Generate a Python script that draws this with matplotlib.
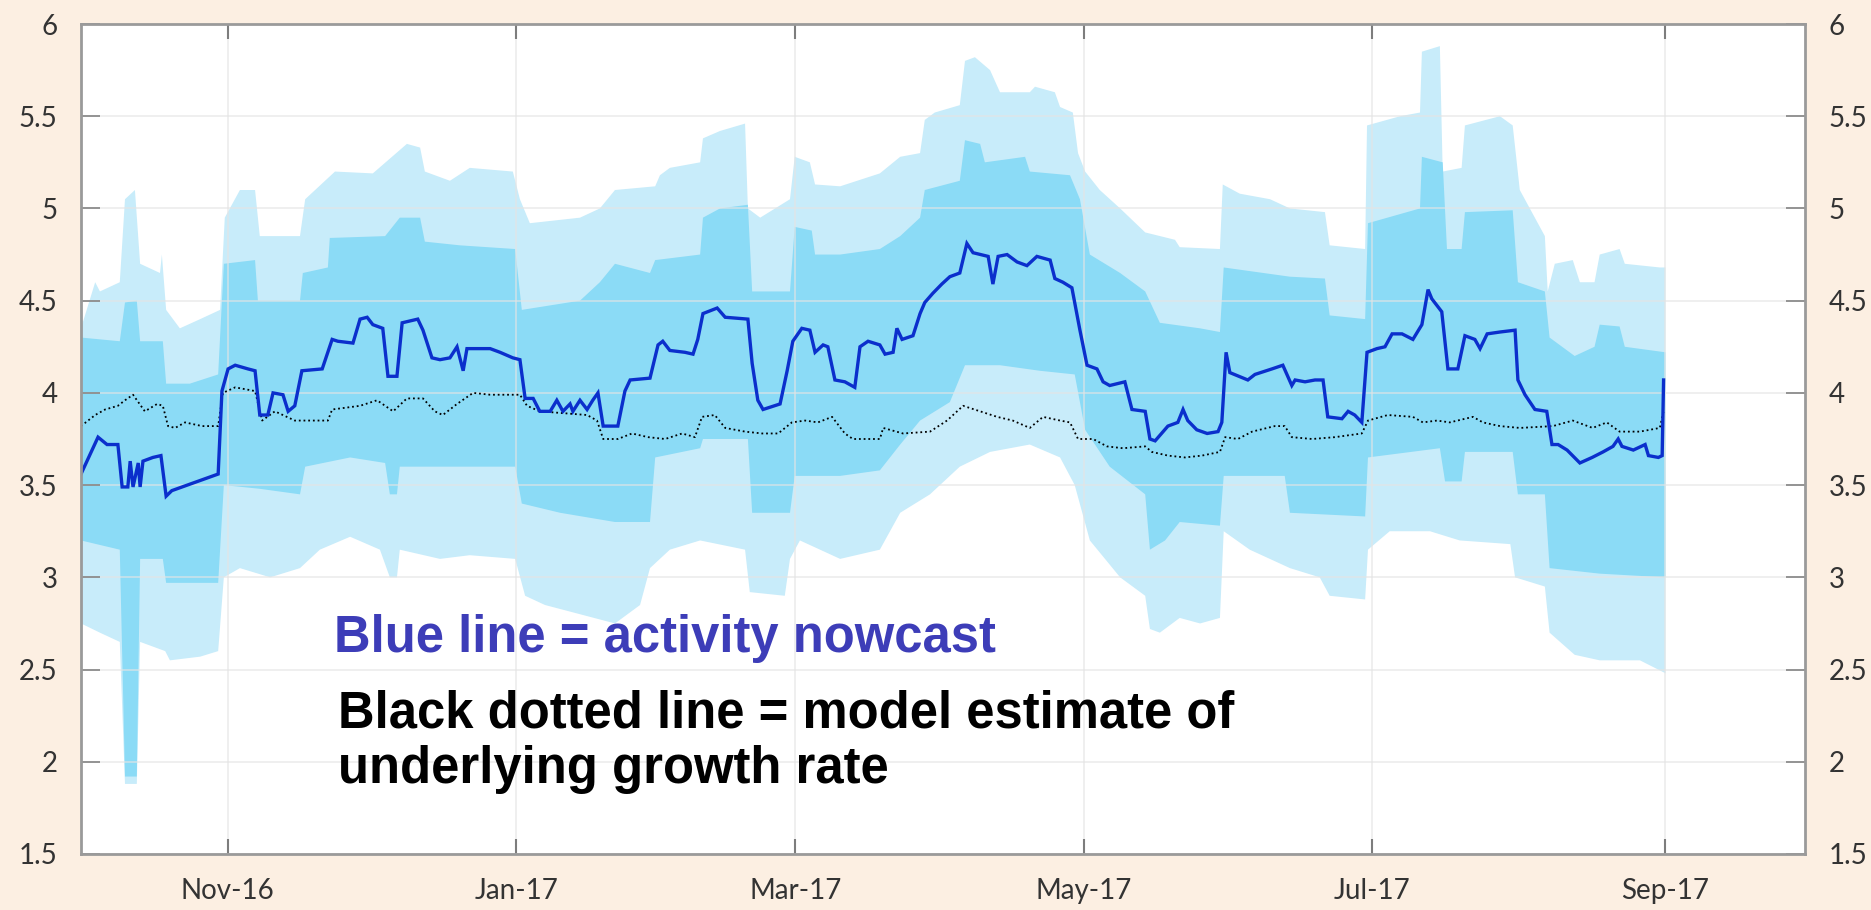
import matplotlib.pyplot as plt
import matplotlib.dates as mdates
import numpy as np
import pandas as pd

# -----------------------------------------------------------------------------
# Data (x values are days since START)
# -----------------------------------------------------------------------------

START = pd.Timestamp("2016-10-01")
END = pd.Timestamp("2017-09-30 12:00")

# activity nowcast (blue line)
NOWCAST_DAY = [
    0, 3.6, 5.5, 7.8, 8.7, 9.9, 10.4, 11, 12.1, 12.5,
    13.1, 15.2, 16.9, 18, 19.2, 29, 29.8, 31.1, 32.6, 35.3,
    36.8, 37.8, 39.5, 40.6, 42.7, 43.8, 45.2, 46.7, 51, 53.1,
    54.3, 57.5, 59, 60.5, 61.7, 63.8, 64.9, 66.8, 67.9, 71.2,
    72.3, 74.2, 75.9, 78, 79.5, 80.8, 81.6, 86.5, 88.6, 91.3,
    92.8, 93.9, 95.6, 97, 99.2, 100.6, 101.9, 103.4, 104, 105.5,
    107, 108.2, 109.3, 110.4, 113.5, 115, 116.1, 120.3, 122, 123,
    124.5, 127.7, 129.4, 130.4, 131.5, 134.5, 136.2, 141, 141.9, 143.1,
    144.2, 147.8, 149.3, 150.5, 152.4, 154.1, 155.2, 156.9, 157.9, 159.4,
    161.5, 163.6, 164.7, 166.4, 168.9, 170, 171.7, 172.5, 173.6, 175.9,
    177.4, 178.4, 180.1, 182, 183.7, 185.8, 187.3, 188.6, 191.8, 192.8,
    193.9, 195.8, 197.9, 200, 202.1, 204.9, 205.9, 207.6, 209.5, 211.2,
    212.7, 214.8, 216.1, 217.5, 220.7, 222.2, 225, 226, 227.1, 229.8,
    231.9, 233, 234, 235.9, 238.1, 240.4, 241.2, 242.1, 242.9, 246.7,
    248.2, 251.8, 254.1, 256, 256.7, 258.8, 260.9, 262.6, 263.6, 266.6,
    267.9, 269.3, 270.8, 271.9, 274, 275.7, 277.2, 279.3, 281.6, 283.5,
    284.8, 285.6, 287.7, 289, 291.1, 292.6, 294.7, 295.8, 297.3, 300,
    303.2, 303.8, 305.3, 307.4, 309.9, 311, 312.3, 314.2, 316.9, 319.5,
    321.8, 323.9, 325, 325.8, 328.2, 330.7, 331.4, 333.5, 334.3, 334.6,
]
NOWCAST = [
    3.56, 3.76, 3.72, 3.72, 3.49, 3.49, 3.63, 3.49, 3.62, 3.49,
    3.63, 3.65, 3.66, 3.44, 3.47, 3.56, 4.01, 4.13, 4.15, 4.13,
    4.12, 3.88, 3.88, 4.00, 3.99, 3.90, 3.93, 4.12, 4.13, 4.29,
    4.28, 4.27, 4.40, 4.41, 4.37, 4.35, 4.09, 4.09, 4.38, 4.40,
    4.34, 4.19, 4.18, 4.19, 4.25, 4.12, 4.24, 4.24, 4.22, 4.19,
    4.18, 3.97, 3.97, 3.90, 3.90, 3.96, 3.90, 3.94, 3.90, 3.96,
    3.91, 3.96, 4.00, 3.82, 3.82, 4.01, 4.07, 4.08, 4.26, 4.28,
    4.23, 4.22, 4.21, 4.29, 4.43, 4.46, 4.41, 4.40, 4.16, 3.96,
    3.91, 3.94, 4.12, 4.28, 4.35, 4.34, 4.22, 4.26, 4.25, 4.07,
    4.06, 4.03, 4.25, 4.28, 4.26, 4.21, 4.22, 4.35, 4.29, 4.31,
    4.43, 4.49, 4.54, 4.59, 4.63, 4.65, 4.81, 4.76, 4.74, 4.59,
    4.74, 4.75, 4.71, 4.69, 4.74, 4.72, 4.62, 4.60, 4.57, 4.34,
    4.15, 4.13, 4.06, 4.04, 4.06, 3.91, 3.90, 3.75, 3.74, 3.82,
    3.84, 3.91, 3.85, 3.80, 3.78, 3.79, 3.84, 4.22, 4.11, 4.07,
    4.10, 4.13, 4.15, 4.04, 4.07, 4.06, 4.07, 4.07, 3.87, 3.86,
    3.90, 3.88, 3.84, 4.22, 4.24, 4.25, 4.32, 4.32, 4.29, 4.37,
    4.56, 4.51, 4.44, 4.13, 4.13, 4.31, 4.29, 4.24, 4.32, 4.33,
    4.34, 4.07, 3.99, 3.91, 3.90, 3.72, 3.72, 3.69, 3.62, 3.65,
    3.68, 3.71, 3.75, 3.71, 3.69, 3.72, 3.66, 3.65, 3.66, 4.07,
]

# model estimate of underlying growth (black dotted line)
MODEL_DAY = [
    0, 3, 5.1, 7.8, 9.3, 11, 13.5, 16.1, 17.3, 18.4,
    19.9, 22, 25.6, 29, 30, 32.6, 36.8, 38.3, 41, 45.2,
    52.2, 53.1, 59, 62.6, 66, 68.9, 72.3, 74.8, 76.5, 79.5,
    82.9, 86.5, 92.8, 94.3, 97, 107, 109.1, 110.4, 113.5, 116.5,
    119.9, 123.5, 127.1, 129.8, 131.3, 134, 136.2, 140.4, 144, 147.4,
    150.3, 153.1, 155.8, 158.8, 161.5, 163.2, 168.9, 169.6, 173.8, 179.5,
    183.1, 186.5, 190.1, 193.7, 197, 200.6, 203.4, 207, 209.1, 210.8,
    214, 216.9, 220.3, 225, 226.4, 229.8, 233.4, 237, 240.8, 241.9,
    244.6, 247.6, 252.4, 254.5, 256, 260.3, 265.1, 270.8, 272.1, 276.3,
    281.6, 283.7, 286.7, 289.4, 294.3, 296.4, 300, 304.2, 311.2, 315.4,
    319.6, 322.6, 325.3, 329.6, 333.8, 334.6,
]
MODEL = [
    3.82, 3.88, 3.91, 3.93, 3.96, 3.99, 3.90, 3.94, 3.93, 3.82,
    3.81, 3.84, 3.82, 3.82, 4.00, 4.03, 4.01, 3.85, 3.90, 3.85,
    3.85, 3.91, 3.93, 3.96, 3.90, 3.97, 3.97, 3.90, 3.88, 3.94,
    4.00, 3.99, 3.99, 3.93, 3.90, 3.88, 3.85, 3.75, 3.75, 3.78,
    3.76, 3.75, 3.78, 3.76, 3.87, 3.88, 3.81, 3.79, 3.78, 3.78,
    3.84, 3.85, 3.84, 3.87, 3.78, 3.75, 3.75, 3.81, 3.78, 3.79,
    3.85, 3.93, 3.90, 3.87, 3.85, 3.81, 3.87, 3.85, 3.84, 3.75,
    3.75, 3.71, 3.70, 3.71, 3.68, 3.66, 3.65, 3.66, 3.68, 3.76,
    3.75, 3.79, 3.82, 3.82, 3.76, 3.75, 3.76, 3.78, 3.85, 3.88,
    3.87, 3.84, 3.85, 3.84, 3.87, 3.84, 3.82, 3.81, 3.82, 3.85,
    3.81, 3.84, 3.79, 3.79, 3.81, 3.90,
]

# wide uncertainty band (light)
OUTER_UP_DAY = [
    0, 3, 4, 8.2, 9.3, 11.4, 12.5, 16.7, 17.1, 18,
    20.9, 25.2, 29.4, 30.4, 33.6, 36.8, 37.8, 46.3, 47.4, 53.7,
    61.7, 68.9, 71.7, 72.7, 78, 82.2, 91.3, 92.8, 94.9, 105.5,
    109.7, 112.9, 121.4, 122.4, 124.5, 130.9, 131.5, 135.1, 140.4, 141,
    143.6, 149.9, 150.9, 154.1, 155.2, 160.5, 168.9, 173.2, 177.4, 178.4,
    180.5, 185.8, 186.9, 189, 192.2, 194.3, 200.6, 201.7, 205.9, 207,
    209.7, 210.8, 212.3, 215.4, 219.7, 225, 231.3, 232.3, 240.8, 241.4,
    245, 251.4, 255.6, 263, 264, 271.5, 271.9, 278.9, 283.1, 283.5,
    287.3, 287.9, 291.9, 292.6, 300, 302.7, 304.2, 309.5, 310.1, 311.6,
    315.4, 316.9, 320, 321.1, 325.3, 326.4, 333.8, 335,
]
OUTER_UP = [
    4.35, 4.60, 4.55, 4.60, 5.05, 5.10, 4.70, 4.65, 4.75, 4.45,
    4.35, 4.40, 4.45, 4.95, 5.10, 5.10, 4.85, 4.85, 5.05, 5.20,
    5.19, 5.35, 5.33, 5.20, 5.15, 5.22, 5.20, 5.05, 4.92, 4.95,
    5.00, 5.10, 5.12, 5.18, 5.22, 5.25, 5.38, 5.42, 5.46, 5.00,
    4.95, 5.05, 5.28, 5.25, 5.13, 5.12, 5.19, 5.28, 5.30, 5.48,
    5.52, 5.56, 5.80, 5.82, 5.75, 5.63, 5.63, 5.66, 5.63, 5.55,
    5.52, 5.30, 5.20, 5.10, 5.00, 4.87, 4.83, 4.79, 4.78, 5.13,
    5.08, 5.05, 5.00, 4.98, 4.80, 4.78, 5.45, 5.50, 5.52, 5.85,
    5.88, 5.20, 5.22, 5.45, 5.50, 5.45, 5.10, 4.85, 4.55, 4.70,
    4.72, 4.60, 4.60, 4.75, 4.78, 4.70, 4.68, 4.68,
]
OUTER_LO_DAY = [
    0, 4, 8.2, 9.3, 11.8, 12.5, 17.8, 18.8, 25.2, 29,
    30.2, 33.6, 40, 46.3, 50.5, 56.9, 63.2, 65.3, 66.8, 67.4,
    75.9, 82.2, 91.8, 93.9, 98.1, 105.5, 112.9, 118.2, 120.3, 124.5,
    130.9, 140.4, 141.4, 148.8, 149.9, 152, 160.5, 168.9, 173.2, 179.5,
    185.8, 192.2, 200.6, 207, 210.1, 213.3, 219.7, 225, 226, 228.1,
    232.3, 236.6, 240.8, 241.6, 247.1, 255.6, 261.9, 264, 271.5, 272.1,
    276.7, 285.2, 291.5, 302.2, 303.2, 309.5, 310.5, 315.8, 321.1, 329.6,
    335,
]
OUTER_LO = [
    2.75, 2.70, 2.65, 1.88, 1.88, 2.65, 2.60, 2.55, 2.57, 2.60,
    3.00, 3.05, 3.00, 3.05, 3.15, 3.22, 3.15, 3.00, 3.00, 3.15,
    3.10, 3.12, 3.10, 2.90, 2.85, 2.80, 2.75, 2.85, 3.05, 3.15,
    3.20, 3.15, 2.92, 2.90, 3.10, 3.20, 3.10, 3.15, 3.35, 3.45,
    3.60, 3.68, 3.72, 3.65, 3.50, 3.20, 3.00, 2.90, 2.72, 2.70,
    2.78, 2.75, 2.78, 3.25, 3.15, 3.05, 3.00, 2.90, 2.88, 3.15,
    3.25, 3.25, 3.20, 3.18, 3.00, 2.95, 2.70, 2.58, 2.55, 2.55,
    2.48,
]

# narrow uncertainty band (mid blue)
INNER_UP_DAY = [
    0, 8.2, 9.3, 11.8, 12.5, 17.3, 18, 23, 29, 30.2,
    36.8, 37.4, 46.3, 46.9, 52.2, 52.6, 64.3, 67.4, 71.7, 72.7,
    80.1, 91.8, 93.2, 105.5, 109.7, 112.9, 120.3, 121.4, 130.9, 131.5,
    135.1, 141, 141.9, 149.9, 150.9, 154.5, 155.2, 160.5, 168.9, 173.2,
    177.4, 178.4, 185.8, 186.9, 190.1, 191.1, 199.6, 200.6, 209.1, 211.2,
    213.3, 219.7, 225, 228.1, 236.6, 240.8, 241.6, 255.6, 263, 264,
    271.5, 272.1, 283.1, 283.5, 287.9, 288.8, 291.9, 292.6, 302.7, 303.8,
    309.5, 310.5, 315.8, 320, 321.1, 325.3, 326.4, 335,
]
INNER_UP = [
    4.30, 4.28, 4.49, 4.50, 4.28, 4.28, 4.05, 4.05, 4.10, 4.70,
    4.72, 4.50, 4.50, 4.65, 4.68, 4.84, 4.85, 4.95, 4.95, 4.82,
    4.80, 4.78, 4.45, 4.50, 4.60, 4.70, 4.65, 4.72, 4.75, 4.95,
    5.00, 5.02, 4.55, 4.55, 4.90, 4.88, 4.75, 4.75, 4.78, 4.85,
    4.95, 5.10, 5.15, 5.37, 5.35, 5.25, 5.28, 5.20, 5.18, 5.05,
    4.75, 4.65, 4.55, 4.38, 4.35, 4.33, 4.68, 4.63, 4.62, 4.42,
    4.40, 4.92, 5.00, 5.28, 5.25, 4.78, 4.78, 4.98, 4.99, 4.60,
    4.55, 4.30, 4.20, 4.25, 4.37, 4.36, 4.25, 4.22,
]
INNER_LO_DAY = [
    0, 8.2, 9.3, 11.8, 12.5, 17.3, 18, 29, 30.2, 37.8,
    46.3, 47.4, 56.9, 64.3, 65.3, 66.8, 67.4, 91.8, 93.2, 101.3,
    112.9, 120.3, 121.4, 130.9, 131.5, 141, 141.9, 149.9, 150.9, 160.5,
    168.9, 173.2, 177.4, 183.7, 186.9, 194.3, 202.7, 210.1, 212.3, 217.5,
    225, 226, 229.2, 232.3, 240.8, 241.6, 254.5, 255.6, 271.5, 272.1,
    287.3, 288.4, 291.9, 292.6, 302.7, 303.8, 309.5, 310.5, 321.1, 335,
]
INNER_LO = [
    3.20, 3.15, 1.92, 1.92, 3.10, 3.10, 2.97, 2.97, 3.50, 3.48,
    3.45, 3.60, 3.65, 3.62, 3.45, 3.45, 3.60, 3.60, 3.40, 3.35,
    3.30, 3.30, 3.65, 3.70, 3.75, 3.75, 3.35, 3.35, 3.55, 3.55,
    3.58, 3.72, 3.85, 3.95, 4.15, 4.15, 4.12, 4.10, 3.80, 3.60,
    3.45, 3.15, 3.20, 3.30, 3.28, 3.55, 3.55, 3.35, 3.33, 3.65,
    3.70, 3.52, 3.52, 3.68, 3.68, 3.45, 3.45, 3.05, 3.02, 3.00,
]

Y_TICKS = [1.5, 2, 2.5, 3, 3.5, 4, 4.5, 5, 5.5, 6]
Y_TICK_LABELS = ["1.5", "2", "2.5", "3", "3.5", "4", "4.5", "5", "5.5", "6"]
MONTH_TICKS = ["2016-11-01", "2017-01-01", "2017-03-01",
               "2017-05-01", "2017-07-01", "2017-09-01"]

# -----------------------------------------------------------------------------
# Style
# -----------------------------------------------------------------------------

BG = "#fcefe2"
LIGHT_BAND = "#c8ecfa"
MID_BAND = "#8bdbf6"
NOWCAST_COLOR = "#0b2fcc"
SPINE = "#9a9a9a"
GRID = "#e4e4e4"
TICK_FONT = "Lato"
NOTE_FONT = "Liberation Sans"
NOTE_SIZE = 36.5

W_PX, H_PX = 1871, 910


def to_num(days):
    return mdates.date2num(START) + np.asarray(days, dtype=float)


def band(ax, up_day, up, lo_day, lo, color):
    xs = np.concatenate([to_num(up_day), to_num(lo_day)[::-1]])
    ys = np.concatenate([np.asarray(up), np.asarray(lo)[::-1]])
    ax.fill(xs, ys, color=color, linewidth=0, zorder=1)


# -----------------------------------------------------------------------------
# Plot
# -----------------------------------------------------------------------------

fig = plt.figure(figsize=(W_PX / 100, H_PX / 100), dpi=100, facecolor=BG)
ax = fig.add_axes([81 / W_PX, 1 - 854 / H_PX, (1805 - 81) / W_PX, (854 - 24) / H_PX])
ax.set_facecolor("white")

band(ax, OUTER_UP_DAY, OUTER_UP, OUTER_LO_DAY, OUTER_LO, LIGHT_BAND)
band(ax, INNER_UP_DAY, INNER_UP, INNER_LO_DAY, INNER_LO, MID_BAND)

ax.plot(to_num(MODEL_DAY), MODEL, color="black", linewidth=1.3,
        linestyle=(0, (1, 1.6)), zorder=3)
ax.plot(to_num(NOWCAST_DAY), NOWCAST, color=NOWCAST_COLOR, linewidth=2.4,
        solid_joinstyle="miter", zorder=4)

ax.set_ylim(1.5, 6)
ax.set_xlim(mdates.date2num(START), mdates.date2num(END))

ax.set_yticks(Y_TICKS)
ax.set_yticklabels(Y_TICK_LABELS)
ax.set_xticks(mdates.date2num(pd.to_datetime(MONTH_TICKS)))
ax.xaxis.set_major_formatter(mdates.DateFormatter("%b-%y"))

ax.tick_params(axis="y", direction="in", length=13.5, width=1.3, color="#8c8c8c",
               left=True, right=True, labelleft=True, labelright=True,
               labelsize=20, labelcolor="#333333", pad=17)
ax.tick_params(axis="x", direction="in", length=11, width=1.5, color="#7d7d7d",
               top=True, bottom=True, labelsize=20, labelcolor="#333333", pad=17)
for lab in ax.get_xticklabels() + ax.get_yticklabels():
    lab.set_family(TICK_FONT)
for lab in ax.yaxis.get_ticklabels(which="major"):
    lab.set_family(TICK_FONT)

ax.set_axisbelow(False)
ax.grid(True, color=GRID, linewidth=1.2, alpha=0.7, zorder=2)

for spine in ax.spines.values():
    spine.set_color(SPINE)
    spine.set_linewidth(2.0)
    spine.set_zorder(5)

# annotations
fig.text(334 / W_PX, 1 - 652 / H_PX, "Blue line = activity nowcast",
         fontsize=NOTE_SIZE, fontweight="bold", family=NOTE_FONT, color="#3d3db8",
         va="baseline", ha="left")
fig.text(338 / W_PX, 1 - 728 / H_PX, "Black dotted line = model estimate of",
         fontsize=NOTE_SIZE, fontweight="bold", family=NOTE_FONT, color="black",
         va="baseline", ha="left")
fig.text(338 / W_PX, 1 - 783 / H_PX, "underlying growth rate",
         fontsize=NOTE_SIZE, fontweight="bold", family=NOTE_FONT, color="black",
         va="baseline", ha="left")

fig.savefig("out.png", dpi=100, facecolor=BG)
